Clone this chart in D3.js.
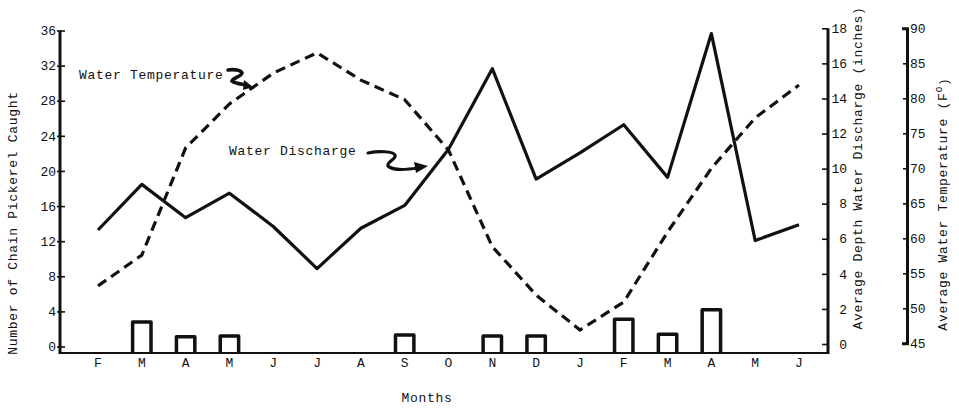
<!DOCTYPE html>
<html>
<head>
<meta charset="utf-8">
<script src="https://cdn.jsdelivr.net/npm/d3@7"></script>
<style>
  html, body { margin: 0; padding: 0; background: #fff; }
  svg { display: block; }
  text { font-family: "Liberation Mono", "DejaVu Sans Mono", monospace; fill: #111; }
</style>
</head>
<body>
<svg id="chart" width="959" height="410"></svg>
<script>
// ---- DATA ----
const months = ["F","M","A","M","J","J","A","S","O","N","D","J","F","M","A","M","J"];
// Average depth water discharge (inches) – solid line, right inner axis
const discharge = [6.5, 9.1, 7.2, 8.6, 6.7, 4.3, 6.6, 7.9, 11.1, 15.7, 9.4, 10.9, 12.5, 9.5, 17.7, 5.9, 6.8];
// Average water temperature (F) – dashed line, right outer axis
const temperature = [53.2, 57.6, 72.9, 79.2, 83.6, 86.5, 82.6, 79.8, 72.6, 58.8, 51.9, 46.9, 50.9, 60.9, 70.0, 77.2, 81.9];
// Number of chain pickerel caught – bars, left axis
const caught = [0, 2.8, 1.1, 1.2, 0, 0, 0, 1.3, 0, 1.2, 1.2, 0, 3.1, 1.4, 4.2, 0, 0];
const countTicks = [0, 4, 8, 12, 16, 20, 24, 28, 32, 36];
const dischargeTicks = [0, 2, 4, 6, 8, 10, 12, 14, 16, 18];
const tempTicks = [45, 50, 55, 60, 65, 70, 75, 80, 85, 90];

// ---- LAYOUT ----
const svg = d3.select("#chart");
const leftX = 60, disX = 828, tempX = 907;
const baseY = 353;
const ink = "#111";
const FS = "13px", LS = "0.7px";

const x = d3.scalePoint().domain(d3.range(months.length)).range([98, 799]);
const yCount = d3.scaleLinear().domain([0, 36]).range([346.5, 30.5]);
const yDis = d3.scaleLinear().domain([0, 18]).range([344, 28.3]);
const yTemp = d3.scaleLinear().domain([45, 90]).range([343.3, 28.3]);

// ---- BARS (open at bottom) ----
const barW = x.step() * 0.42;
svg.append("g").selectAll("path")
  .data(caught.map((v, i) => ({v, i})).filter(d => d.v > 0))
  .join("path")
  .attr("d", d => {
    const p = d3.path();
    const x0 = x(d.i) - barW / 2, x1 = x(d.i) + barW / 2, yt = yCount(d.v);
    p.moveTo(x0, baseY); p.lineTo(x0, yt); p.lineTo(x1, yt); p.lineTo(x1, baseY);
    return p.toString();
  })
  .attr("fill", "none").attr("stroke", ink).attr("stroke-width", 3.5)
  .attr("stroke-linejoin", "round");

// ---- BASELINE ----
svg.append("line").attr("x1", leftX).attr("x2", disX).attr("y1", baseY).attr("y2", baseY)
  .attr("stroke", ink).attr("stroke-width", 2.2);

// ---- LINES ----
const disLine = d3.line().x((d, i) => x(i)).y(d => yDis(d));
svg.append("path").datum(discharge).attr("d", disLine)
  .attr("fill", "none").attr("stroke", ink).attr("stroke-width", 3.2)
  .attr("stroke-linejoin", "round");

const tempLine = d3.line().x((d, i) => x(i)).y(d => yTemp(d));
svg.append("path").datum(temperature).attr("d", tempLine)
  .attr("fill", "none").attr("stroke", ink).attr("stroke-width", 3.2)
  .attr("stroke-dasharray", "10,6");

// ---- LEFT AXIS ----
const gL = svg.append("g").attr("transform", `translate(${leftX},0)`)
  .call(d3.axisLeft(yCount).tickValues(countTicks).tickSizeInner(-5).tickSizeOuter(0).tickPadding(4));
gL.select(".domain").remove();
gL.selectAll(".tick line").attr("x1", -3).attr("stroke", ink).attr("stroke-width", 1.6);
gL.selectAll(".tick text").style("font-size", FS).style("letter-spacing", "0px").attr("fill", ink);
svg.append("line").attr("x1", leftX).attr("x2", leftX).attr("y1", yCount(36)).attr("y2", baseY + 1)
  .attr("stroke", ink).attr("stroke-width", 3);

// ---- DISCHARGE AXIS ----
const gD = svg.append("g").attr("transform", `translate(${disX},0)`)
  .call(d3.axisRight(yDis).tickValues(dischargeTicks).tickSizeInner(-6).tickSizeOuter(0).tickPadding(3));
gD.select(".domain").remove();
gD.selectAll(".tick line").attr("stroke", ink).attr("stroke-width", 1.6);
gD.selectAll(".tick text").attr("text-anchor", "end").attr("x", 19)
  .style("font-size", FS).style("letter-spacing", "0px").attr("fill", ink);
svg.append("line").attr("x1", disX).attr("x2", disX).attr("y1", yDis(18)).attr("y2", baseY + 1)
  .attr("stroke", ink).attr("stroke-width", 3);

// ---- TEMPERATURE AXIS ----
const gT = svg.append("g").attr("transform", `translate(${tempX},0)`)
  .call(d3.axisRight(yTemp).tickValues(tempTicks).tickSizeInner(-4).tickSizeOuter(-5).tickPadding(3));
gT.select(".domain").attr("stroke", ink).attr("stroke-width", 3);
gT.selectAll(".tick line").attr("stroke", ink).attr("stroke-width", 1.6);
gT.selectAll(".tick text").style("font-size", FS).style("letter-spacing", "0px").attr("fill", ink);

// ---- MONTH LABELS ----
svg.append("g").selectAll("text").data(months).join("text")
  .attr("x", (d, i) => x(i)).attr("y", 363)
  .attr("text-anchor", "middle").attr("dominant-baseline", "central")
  .style("font-size", FS).text(d => d);

svg.append("text").attr("x", 427).attr("y", 398)
  .attr("text-anchor", "middle").attr("dominant-baseline", "central")
  .style("font-size", FS).style("letter-spacing", LS).text("Months");

// ---- AXIS TITLES ----
function vtitle(cx, cy, txt) {
  return svg.append("text").attr("transform", `translate(${cx},${cy}) rotate(-90)`)
    .attr("text-anchor", "middle").attr("dominant-baseline", "central")
    .style("font-size", FS).style("letter-spacing", LS).text(txt);
}
vtitle(13, 223, "Number of Chain Pickerel Caught");
vtitle(858, 168, "Average Depth Water Discharge (inches)");
const tt = vtitle(943, 204, "Average Water Temperature (F");
tt.append("tspan").attr("dy", "-0.45em").style("font-size", "10px").text("o");
tt.append("tspan").attr("dy", "0.45em").text(")");

// ---- ANNOTATIONS ----
svg.append("text").attr("x", 79).attr("y", 75).attr("dominant-baseline", "central")
  .style("font-size", FS).style("letter-spacing", LS).text("Water Temperature");
svg.append("text").attr("x", 229).attr("y", 151).attr("dominant-baseline", "central")
  .style("font-size", FS).style("letter-spacing", LS).text("Water Discharge");

// squiggle arrows
svg.append("path").attr("d", "M228,70 C234,69 241,70 242,73 C242,76 233,78 232,81 C236,84 242,84 246,85")
  .attr("fill", "none").attr("stroke", ink).attr("stroke-width", 3.6).attr("stroke-linecap", "round");
svg.append("path").attr("d", "M244,80 L253,87 L243,90 Z").attr("fill", ink);

svg.append("path").attr("d", "M368,153 C378,151 393,151 395,155 C397,159 386,162 388,166 C392,170 405,170 418,168")
  .attr("fill", "none").attr("stroke", ink).attr("stroke-width", 3.2).attr("stroke-linecap", "round");
svg.append("path").attr("d", "M414,162 L428,166 L416,173 Z").attr("fill", ink);
</script>
</body>
</html>
